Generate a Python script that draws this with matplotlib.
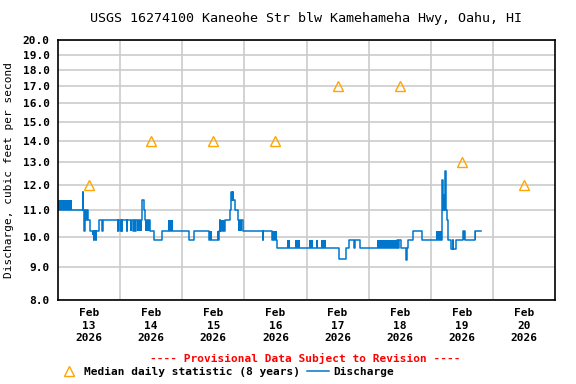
"""
USGS 16274100 hydrograph, Kaneohe Str
"""
import numpy as np
import matplotlib
matplotlib.use('Agg')
from matplotlib import pyplot as plt
from matplotlib.lines import Line2D
from matplotlib.ticker import FixedLocator, NullLocator

# hours since Feb 13 2026 00:00, step values (cfs)
q_hours = [0.0, 9.6, 9.85, 10.1, 10.35, 11.0, 11.25, 11.5, 12.4, 13.8, 14.05,
           14.6, 14.85, 16.0, 17.0, 17.25, 23.1, 23.35, 24.0, 24.25, 24.6,
           24.85, 26.5, 26.75, 29.1, 29.35, 29.7, 29.95, 32.6, 33.2, 33.5,
           35.5, 37.2, 40.0, 50.7, 52.5, 58.4, 62.3, 62.5, 62.75, 64.5, 66.4,
           66.7, 67.0, 67.25, 67.5, 67.75, 68.4, 69.6, 71.6, 79.1, 79.35,
           82.5, 84.5, 104.4, 108.7, 111.1, 112.4, 114.5, 114.75, 116.6,
           130.8, 131.5, 131.75, 132.7, 134.6, 134.85, 135.3, 137.2, 140.7,
           148.2, 148.5, 148.75, 149.0, 149.25, 149.5, 149.75, 150.0, 150.25,
           150.5, 150.75, 151.7, 152.5, 152.75, 153.7, 156.6, 157.4, 161.1,
           163.3]
q_vals = [11.0, 11.7, 11.0, 10.2, 11.0, 10.6, 11.0, 10.6, 10.2, 9.9, 10.2,
          9.9, 10.2, 10.6, 10.2, 10.6, 10.2, 10.6, 10.2, 10.6, 10.2,
          10.6, 10.2, 10.6, 10.2, 10.6, 10.2, 10.6, 11.4, 11.0, 10.6,
          10.2, 9.9, 10.2, 9.9, 10.2, 9.9, 10.2, 10.6, 10.2, 10.6, 11.0,
          11.4, 11.7, 11.4, 11.7, 11.4, 11.0, 10.6, 10.2, 9.9, 10.2,
          9.9, 9.6, 9.6, 9.24, 9.6, 9.9, 9.6, 9.9, 9.6,
          9.9, 9.6, 9.9, 9.6, 9.2, 9.6, 9.9, 10.2, 9.9,
          11.0, 12.2, 11.0, 11.6, 11.0, 12.6, 11.4, 11.0, 10.6,
          10.2, 9.9, 9.57, 9.9, 9.57, 9.9, 10.2, 9.9, 10.2,
          10.2]

# intervals where the 15-min value flickers between two levels
flick_start = [0.0, 13.0, 27.8, 30.7, 33.6, 42.6, 58.4, 61.5, 63.0, 69.6,
               82.5, 88.3, 91.5, 96.8, 99.5, 101.5, 123.1, 146.0, 156.6, 161.1]
flick_end = [5.5, 15.0, 28.6, 32.6, 35.5, 44.3, 59.5, 62.3, 64.5, 71.2,
             84.5, 89.5, 93.3, 98.5, 100.5, 103.5, 130.8, 148.2, 157.4, 161.6]
flick_lo = [11.0, 10.05, 10.2, 10.2, 10.2, 10.2, 9.9, 9.9, 10.2, 10.2,
            9.9, 9.6, 9.6, 9.6, 9.6, 9.6, 9.6, 9.9, 9.9, 9.9]
flick_hi = [11.4, 10.2, 10.6, 10.6, 10.6, 10.6, 10.2, 10.2, 10.6, 10.6,
            10.2, 9.9, 9.9, 9.9, 9.9, 9.9, 9.9, 10.2, 10.2, 10.2]

# daily median statistic at noon
med_hours = [12, 36, 60, 84, 108, 132, 156, 180]
med_vals = [12.0, 14.0, 14.0, 14.0, 17.0, 17.0, 13.0, 12.0]

day_labels = ['Feb\n13\n2026', 'Feb\n14\n2026', 'Feb\n15\n2026', 'Feb\n16\n2026',
              'Feb\n17\n2026', 'Feb\n18\n2026', 'Feb\n19\n2026', 'Feb\n20\n2026']
y_ticks = [8, 9, 10, 11, 12, 13, 14, 15, 16, 17, 18, 19, 20]

blue = '#0077CC'
orange = '#FFA500'
plt.rcParams['font.family'] = ['DejaVu Sans Mono']
plt.rcParams['font.weight'] = 'bold'
plt.rcParams['font.size'] = 8

fig = plt.figure(figsize=(5.76, 3.84), dpi=100)
ax = fig.add_axes([58/576, 1-300/384, (555-58)/576, (300-40)/384])

for a, b, lo, hi in zip(flick_start, flick_end, flick_lo, flick_hi):
    ax.fill_between([a, b], [lo, lo], [hi, hi], color=blue, lw=0)
ax.step(q_hours, q_vals, where='post', color=blue, lw=1.1)
ax.plot(med_hours, med_vals, ls='none', marker='^', ms=7, mfc='none',
        mec=orange, mew=1.0, clip_on=False)

ax.set_yscale('log')
ax.set_ylim(8, 20)
ax.yaxis.set_major_locator(FixedLocator(y_ticks))
ax.yaxis.set_minor_locator(NullLocator())
ax.set_yticklabels(['%.1f' % v for v in y_ticks])
ax.set_xlim(0, 192)
ax.set_xticks(med_hours)
ax.set_xticklabels(day_labels, linespacing=1.3)
ax.set_xticks(np.arange(24, 192, 24), minor=True)
ax.tick_params(which='both', length=0)
ax.tick_params(axis='x', pad=6)
ax.tick_params(axis='y', pad=6)
ax.grid(True, which='minor', axis='x', color='#cccccc', lw=1.2)
ax.grid(True, which='major', axis='y', color='#cccccc', lw=1.2)
ax.set_axisbelow(True)
for s in ax.spines.values():
    s.set_linewidth(1.2)

ax.set_title('USGS 16274100 Kaneohe Str blw Kamehameha Hwy, Oahu, HI', pad=13)
ax.set_ylabel('Discharge, cubic feet per second', labelpad=6)

fig.text(305/576, 1-358/384, '---- Provisional Data Subject to Revision ----',
         color='red', ha='center', va='center')
handles = [Line2D([], [], ls='none', marker='^', ms=7, mfc='none', mec=orange),
           Line2D([], [], color=blue, lw=1.1)]
fig.legend(handles, ['Median daily statistic (8 years)', 'Discharge'],
           loc='center', bbox_to_anchor=(226/576, 1-372/384), ncol=2,
           frameon=False, handlelength=2.0, handletextpad=0.4,
           columnspacing=0.6, borderpad=0)

plt.savefig('out.png', dpi=100)
